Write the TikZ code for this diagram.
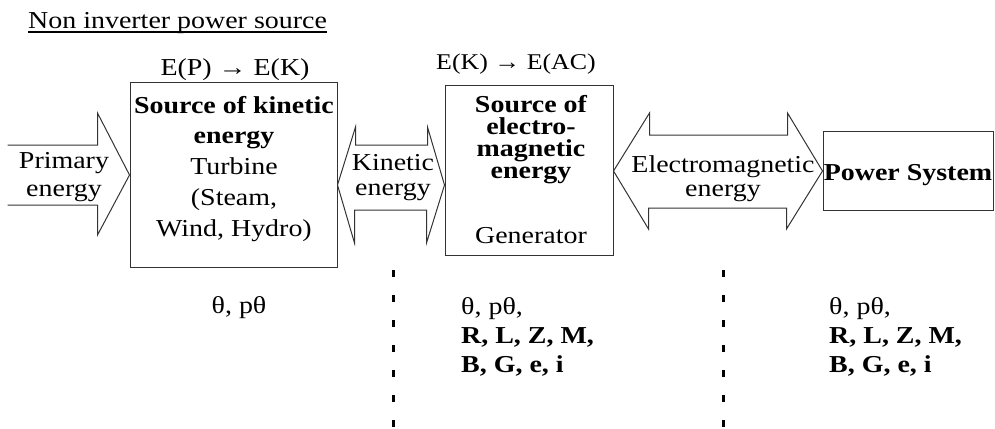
\documentclass[tikz,border=0pt]{standalone}
\usepackage{fontspec}
\setmainfont{Liberation Serif}[FakeStretch=1.15]
\newcommand\fs{\fontsize{24.3pt}{30pt}\selectfont}
\newcommand\myul[1]{\setbox0=\hbox{#1}\rlap{\rule[-4pt]{\wd0}{1.8pt}}\box0}
\begin{document}
\begin{tikzpicture}[x=1pt,y=-1pt,
  box/.style={draw=black!80, line width=1pt, inner sep=0pt},
  blk/.style={draw=black!80, line width=1pt, line join=miter},
  txt/.style={inner sep=0pt, anchor=base, align=center, font=\fs},
  dotline/.style={draw=black, line width=3pt, dash pattern=on 7pt off 18pt}]
\useasboundingbox (0,0) rectangle (995,428);

% boxes
\node[box, minimum width=207pt, minimum height=185pt] (box1) at (233.5,174.5) {};
\node[box, minimum width=168pt, minimum height=170pt] (box2) at (529,170) {};
\node[box, minimum width=170pt, minimum height=79pt] (box3) at (908,170.5) {};

% title and conversion labels
\node[txt, anchor=base west] (title) at (28,29) {\myul{Non inverter power source}};
\node[txt] (ek1) at (235,75) {E(P) \textbf{→} E(K)};
\node[txt, font=\fontsize{22.5pt}{26pt}\selectfont] (ek2) at (516,70) {E(K) \textbf{→} E(AC)};

% box texts (anchor base = last line)
\node[txt, font=\fontsize{24.3pt}{30.75pt}\selectfont] (t1) at (234,236)
  {\textbf{Source of kinetic}\\\textbf{energy}\\Turbine\\(Steam,\\Wind, Hydro)};
\node[txt, font=\fontsize{24.3pt}{21.7pt}\selectfont\bfseries] (t2) at (531,178)
  {Source of\\electro-\\magnetic\\energy};
\node[txt] (t2g) at (531,243) {Generator};
\node[txt, font=\fs\bfseries] (t3) at (908,180) {Power System};

% block arrows
\coordinate (ptip) at (box1.west |- 0,175);
\draw[blk] (ptip) ++(-122,-30) coordinate (pstart) -- ++(90,0) -- ++(0,-32) -- (ptip)
  -- ++(-32,60) -- ++(0,-30) -- ++(-90,0);
\coordinate (ktip) at (box1.east |- 0,185);
\draw[blk] (ktip) -- ++(18,-58) -- ++(0,18) -- ++(72,0) -- ++(0,-18) -- (box2.west |- ktip)
  -- ++(-18,58) -- ++(0,-33) -- ++(-72,0) -- ++(0,33) -- cycle;
\coordinate (etip) at (box2.east |- 0,171);
\draw[blk] (etip) -- ++(36,-58) -- ++(0,22) -- ++(138,0) -- ++(0,-22) -- (box3.west |- etip)
  -- ++(-36,58) -- ++(0,-21) -- ++(-138,0) -- ++(0,21) -- cycle;

% arrow texts (anchor base = last line)
\node[txt, font=\fontsize{24.3pt}{28pt}\selectfont] (tp) at (64,196) {Primary\\energy};
\node[txt, font=\fontsize{24.3pt}{25pt}\selectfont] (tk) at (393,195) {Kinetic\\energy};
\node[txt, font=\fontsize{24.3pt}{24pt}\selectfont] (te) at (723,196) {Electromagnetic\\energy};

% dotted separators
\coordinate (d1a) at (393,270); \coordinate (d1b) at (393,428);
\coordinate (d2a) at (723,270); \coordinate (d2b) at (723,428);
\draw[dotline] (d1a) -- (d1b);
\draw[dotline] (d2a) -- (d2b);

% variables
\node[txt] (b1) at (239,313) {θ, pθ};
\node[txt, anchor=base west, align=left, font=\fontsize{24.3pt}{29pt}\selectfont] (b2) at (461,372)
  {θ, pθ,\\\textbf{R, L, Z, M,}\\\textbf{B, G, e, i}};
\node[txt, anchor=base west, align=left, font=\fontsize{24.3pt}{29pt}\selectfont] (b3) at (829,372)
  {θ, pθ,\\\textbf{R, L, Z, M,}\\\textbf{B, G, e, i}};
\end{tikzpicture}
\end{document}
